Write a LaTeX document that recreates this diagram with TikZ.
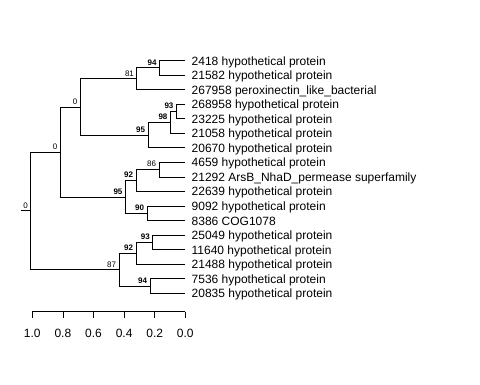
\documentclass[tikz,border=0pt]{standalone}
\usepackage{fontspec}
\setmainfont{Liberation Sans}
\begin{document}
\begin{tikzpicture}[x=1pt,y=-1pt,line width=0.75pt,
  leaf/.style={anchor=base west,inner sep=0pt,font=\fontsize{12}{14}\selectfont},
  bs/.style={anchor=south east,inner sep=0pt,xshift=-2.5pt,yshift=2.2pt,font=\fontsize{8}{9}\selectfont},
  bsb/.style={bs,font=\fontsize{8}{9}\selectfont\bfseries},
  ticklab/.style={anchor=base,inner sep=0pt,font=\fontsize{12}{14}\selectfont},
  edge/.style={draw=black}]
\useasboundingbox (0,0) rectangle (480,384);
% leaf tips
\coordinate (t1) at (185.3,60.5);
\coordinate (t2) at (185.3,75.05);
\coordinate (t3) at (185.3,89.6);
\coordinate (t4) at (185.3,104.15);
\coordinate (t5) at (185.3,118.7);
\coordinate (t6) at (185.3,133.25);
\coordinate (t7) at (185.3,147.8);
\coordinate (t8) at (185.3,162.35);
\coordinate (t9) at (185.3,176.9);
\coordinate (t10) at (185.3,191.45);
\coordinate (t11) at (185.3,206);
\coordinate (t12) at (185.3,220.55);
\coordinate (t13) at (185.3,235.1);
\coordinate (t14) at (185.3,249.65);
\coordinate (t15) at (185.3,264.2);
\coordinate (t16) at (185.3,278.75);
\coordinate (t17) at (185.3,293.3);
% leaf labels
\node[leaf] (l1) at (191.3,65) {2418 hypothetical protein};
\node[leaf] (l2) at (191.3,79.55) {21582 hypothetical protein};
\node[leaf] (l3) at (191.3,94.1) {267958 peroxinectin\_like\_bacterial};
\node[leaf] (l4) at (191.3,108.65) {268958 hypothetical protein};
\node[leaf] (l5) at (191.3,123.2) {23225 hypothetical protein};
\node[leaf] (l6) at (191.3,137.75) {21058 hypothetical protein};
\node[leaf] (l7) at (191.3,152.3) {20670 hypothetical protein};
\node[leaf] (l8) at (191.3,166.85) {4659 hypothetical protein};
\node[leaf] (l9) at (191.3,181.4) {21292 ArsB\_NhaD\_permease superfamily};
\node[leaf] (l10) at (191.3,195.95) {22639 hypothetical protein};
\node[leaf] (l11) at (191.3,210.5) {9092 hypothetical protein};
\node[leaf] (l12) at (191.3,225.05) {8386 COG1078};
\node[leaf] (l13) at (191.3,239.6) {25049 hypothetical protein};
\node[leaf] (l14) at (191.3,254.15) {11640 hypothetical protein};
\node[leaf] (l15) at (191.3,268.7) {21488 hypothetical protein};
\node[leaf] (l16) at (191.3,283.25) {7536 hypothetical protein};
\node[leaf] (l17) at (191.3,297.8) {20835 hypothetical protein};
% internal nodes
\coordinate (n94a) at (159.5,67.78);
\coordinate (n81) at (136.8,78.69);
\coordinate (n93a) at (176.3,111.43);
\coordinate (n98) at (170.3,122.34);
\coordinate (n95a) at (148,135.07);
\coordinate (n0a) at (80.3,106.88);
\coordinate (n86) at (159,169.63);
\coordinate (n92a) at (136,180.54);
\coordinate (n90) at (147,213.28);
\coordinate (n95b) at (125.3,196.91);
\coordinate (n0b) at (60.3,151.9);
\coordinate (n93b) at (152.7,242.38);
\coordinate (n92b) at (136,253.29);
\coordinate (n94b) at (150,286.03);
\coordinate (n87) at (119,269.66);
\coordinate (root) at (30.7,210.78);
\coordinate (rs) at (20.5,210.78);
% edges
\draw[edge] (n94a) |- (t1);
\draw[edge] (n94a) |- (t2);
\draw[edge] (n81) |- (n94a);
\draw[edge] (n81) |- (t3);
\draw[edge] (n93a) |- (t4);
\draw[edge] (n93a) |- (t5);
\draw[edge] (n98) |- (n93a);
\draw[edge] (n98) |- (t6);
\draw[edge] (n95a) |- (n98);
\draw[edge] (n95a) |- (t7);
\draw[edge] (n0a) |- (n81);
\draw[edge] (n0a) |- (n95a);
\draw[edge] (n86) |- (t8);
\draw[edge] (n86) |- (t9);
\draw[edge] (n92a) |- (n86);
\draw[edge] (n92a) |- (t10);
\draw[edge] (n90) |- (t11);
\draw[edge] (n90) |- (t12);
\draw[edge] (n95b) |- (n92a);
\draw[edge] (n95b) |- (n90);
\draw[edge] (n0b) |- (n0a);
\draw[edge] (n0b) |- (n95b);
\draw[edge] (n93b) |- (t13);
\draw[edge] (n93b) |- (t14);
\draw[edge] (n92b) |- (n93b);
\draw[edge] (n92b) |- (t15);
\draw[edge] (n94b) |- (t16);
\draw[edge] (n94b) |- (t17);
\draw[edge] (n87) |- (n92b);
\draw[edge] (n87) |- (n94b);
\draw[edge] (root) |- (n0b);
\draw[edge] (root) |- (n87);
\draw[edge] (rs) -- (root);
% bootstrap labels
\node[bsb] (b94a) at (n94a) {94};
\node[bs] (b81) at (n81) {81};
\node[bsb] (b93a) at (n93a) {93};
\node[bsb] (b98) at (n98) {98};
\node[bsb] (b95a) at (n95a) {95};
\node[bs] (b0a) at (n0a) {0};
\node[bs] (b86) at (n86) {86};
\node[bsb] (b92a) at (n92a) {92};
\node[bsb] (b90) at (n90) {90};
\node[bsb] (b95b) at (n95b) {95};
\node[bs] (b0b) at (n0b) {0};
\node[bsb] (b93b) at (n93b) {93};
\node[bsb] (b92b) at (n92b) {92};
\node[bsb] (b94b) at (n94b) {94};
\node[bs] (b87) at (n87) {87};
\node[bs] (b0r) at (root) {0};
% axis
\coordinate (a0) at (185.3,311.7);
\coordinate (a1) at (154.7,311.7);
\coordinate (a2) at (124.1,311.7);
\coordinate (a3) at (93.5,311.7);
\coordinate (a4) at (62.9,311.7);
\coordinate (a5) at (32.3,311.7);
\draw[edge] (a5) -- (a0);
\foreach \k/\lab in {0/0.0,1/0.2,2/0.4,3/0.6,4/0.8,5/1.0}{
  \draw[edge] (a\k) -- ++(0,6.3);
  \node[ticklab] (al\k) at ([yshift=-25.9pt]a\k) {\lab};
}
\end{tikzpicture}
\end{document}
